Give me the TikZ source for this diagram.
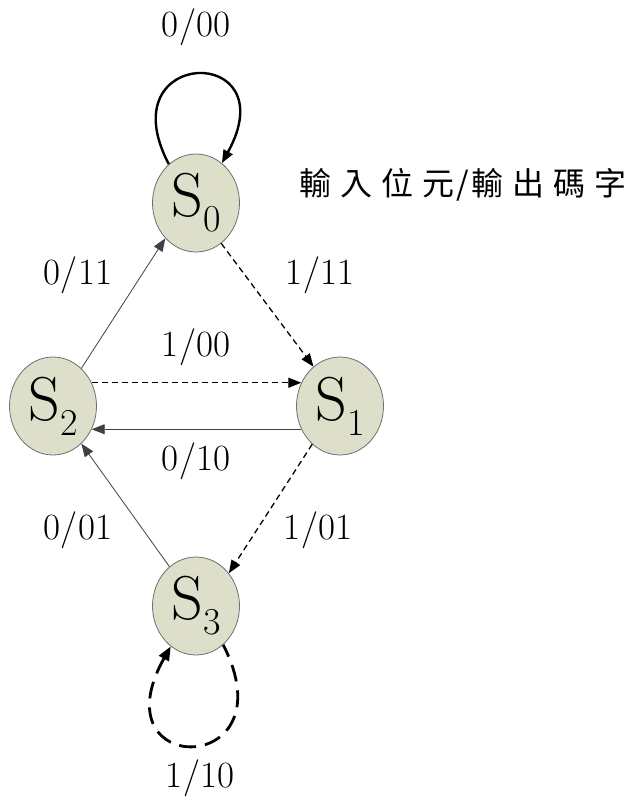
\documentclass[tikz,border=0pt]{standalone}
\usepackage{fontspec}
\newfontfamily\tnr{Latin Modern Roman}
\newfontfamily\cjk{Noto Sans CJK TC}
\usetikzlibrary{arrows.meta,shapes.geometric}
\definecolor{stfill}{RGB}{221,223,203}
\definecolor{stborder}{RGB}{110,110,110}
\newcommand\stname[1]{\tnr\fontsize{62}{62}\selectfont S\raisebox{-15pt}{\fontsize{38}{38}\selectfont #1}}
\newcommand\io[2]{#1\makebox[0.5em]{/}#2}
\begin{document}
\begin{tikzpicture}[x=1pt,y=-1pt,
  state/.style={ellipse, draw=stborder, line width=0.8pt, fill=stfill,
    minimum width=87pt, minimum height=98pt, inner sep=0pt},
  lbl/.style={font=\tnr\fontsize{37}{37}\selectfont, inner sep=0pt},
  tip/.style={-{Triangle[length=13pt,width=10pt]}},
  solidedge/.style={tip, draw=black!75, line width=0.8pt},
  dashedge/.style={tip, draw=black, line width=1.3pt, dash pattern=on 6pt off 4pt},
  loopsolid/.style={tip, draw=black, line width=2.4pt},
  loopdash/.style={-{Triangle[length=14pt,width=11pt]}, draw=black, line width=2.8pt, dash pattern=on 17pt off 9pt}]
\useasboundingbox (0,0) rectangle (632,800);
\node[state] (s0) at (196,203) {\stname{0}};
\node[state] (s1) at (340,406) {\stname{1}};
\node[state] (s2) at (53,406) {\stname{2}};
\node[state] (s3) at (196,606) {\stname{3}};
% loops
\draw[loopsolid] (s0.125) .. controls +(-62,-118) and +(66,-120) .. (s0.57);
\draw[loopdash, dash phase=4pt] (s3.-55) .. controls +(68,133) and +(-75,133) .. (s3.-122);
% edges
\draw[solidedge] (s2.53) -- (s0.-131);
\draw[dashedge] (s0.-58) -- (s1.124);
\draw[dashedge] (s2.31) -- (s1.149);
\draw[solidedge] (s1.-149) -- (s2.-31);
\draw[dashedge] (s1.-126) -- (s3.45);
\draw[solidedge] (s3.124) -- (s2.-53);
% labels
\node[lbl] (l00) at (196,27) {\io{0}{00}};
\node[lbl] (l11a) at (320,275) {\io{1}{11}};
\node[lbl] (l11b) at (78,275) {\io{0}{11}};
\node[lbl] (l100) at (196,347) {\io{1}{00}};
\node[lbl] (l010) at (196,461) {\io{0}{10}};
\node[lbl] (l001) at (78,530) {\io{0}{01}};
\node[lbl] (l101) at (318,530) {\io{1}{01}};
\node[lbl] (l110) at (200,778) {\io{1}{10}};
\node[inner sep=0pt, font=\cjk\fontsize{32}{32}\selectfont] (legend) at (463,185) {輸\hspace{9pt}入\hspace{9pt}位\hspace{9pt}元\hspace{2pt}/\hspace{2pt}輸\hspace{9pt}出\hspace{9pt}碼\hspace{9pt}字};
\end{tikzpicture}
\end{document}
